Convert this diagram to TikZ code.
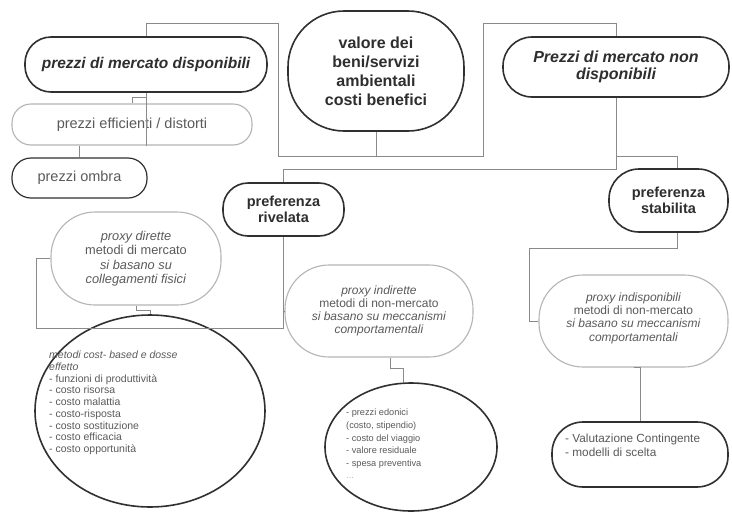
\documentclass[tikz,border=0pt]{standalone}
\usepackage{fontspec}
\setmainfont{Liberation Sans}
\usetikzlibrary{shapes.geometric}
\definecolor{boxdark}{HTML}{303030}
\definecolor{boxlight}{HTML}{B4B4B4}
\definecolor{lineg}{HTML}{8A8A8A}
\definecolor{txtdark}{HTML}{2E2E2E}
\definecolor{txtmid}{HTML}{5A5A5A}
\begin{document}
\begin{tikzpicture}[x=1pt,y=-1pt,
  thickbox/.style={draw=boxdark, line width=1.6pt, fill=white, inner sep=0pt, text=txtdark},
  medbox/.style={draw=boxdark, line width=1.2pt, fill=white, inner sep=0pt, text=txtmid},
  thinbox/.style={draw=boxlight, line width=1.1pt, inner sep=0pt, text=txtmid},
  ring/.style={ellipse, draw=boxdark, line width=1.6pt, inner sep=0pt},
  conn/.style={draw=lineg, line width=0.8pt},
  listtxt/.style={anchor=north west, align=left, inner sep=0pt, text=txtmid}]
\useasboundingbox (0,0) rectangle (732,512);
\fill[white] (0,0) rectangle (732,512);

% top level
\node[thickbox, minimum width=242pt, minimum height=55pt, rounded corners=26pt,
  font=\fontsize{15.5}{18}\selectfont\bfseries\itshape] (disp) at (146,64.5)
  {prezzi di mercato disponibili};
\node[thickbox, minimum width=176pt, minimum height=120pt, rounded corners=56pt,
  align=center, font=\fontsize{16}{19}\selectfont\bfseries] (valore) at (376,71)
  {valore dei\\beni/servizi\\ambientali\\costi benefici};
\node[thickbox, minimum width=226pt, minimum height=60pt, rounded corners=29pt,
  align=center, font=\fontsize{16}{17.5}\selectfont\bfseries\itshape] (nondisp) at (616,67)
  {Prezzi di mercato non\\disponibili};

% left branch
\node[thinbox, minimum width=240pt, minimum height=41pt, rounded corners=19pt,
  font=\fontsize{14.5}{17}\selectfont] (eff) at (132,124.5)
  {prezzi efficienti / distorti};
\node[medbox, minimum width=135pt, minimum height=40pt, rounded corners=19pt,
  font=\fontsize{14.5}{17}\selectfont] (ombra) at (79.5,178)
  {prezzi ombra};

% preferences
\node[thickbox, minimum width=121pt, minimum height=53pt, rounded corners=25pt,
  align=center, font=\fontsize{14.5}{16}\selectfont\bfseries] (riv) at (283.5,209.5)
  {preferenza\\rivelata};
\node[thickbox, minimum width=119pt, minimum height=63pt, rounded corners=30pt,
  align=center, font=\fontsize{14.5}{16}\selectfont\bfseries] (stab) at (668.5,200.5)
  {preferenza\\stabilita};

% proxies
\node[thinbox, minimum width=170pt, minimum height=93pt, rounded corners=44pt,
  align=center, font=\fontsize{12.8}{14.5}\selectfont] (dir) at (136,258.5)
  {\textit{proxy dirette}\\metodi di mercato\\\textit{si basano su}\\\textit{collegamenti fisici}};
\node[thinbox, minimum width=188pt, minimum height=92pt, rounded corners=44pt,
  align=center, font=\fontsize{12}{13.2}\selectfont] (indir) at (379,311)
  {\textit{proxy indirette}\\metodi di non-mercato\\\textit{si basano su meccanismi}\\\textit{comportamentali}};
\node[thinbox, minimum width=189pt, minimum height=92pt, rounded corners=44pt,
  align=center, font=\fontsize{12}{13.2}\selectfont, text depth=8pt] (indisp) at (633.5,321)
  {\textit{proxy indisponibili}\\metodi di non-mercato\\\textit{si basano su meccanismi}\\\textit{comportamentali}};

% circles
\node[ring, minimum width=230pt, minimum height=192pt] (costcirc) at (150,411) {};
\node[listtxt, font=\fontsize{10.5}{11.7}\selectfont] (costtxt) at (49,351)
  {\textit{metodi cost- based e dosse}\\\textit{effetto}\\- funzioni di produttività\\- costo risorsa\\- costo malattia\\- costo-risposta\\- costo sostituzione\\- costo efficacia\\- costo opportunità};
\node[ring, minimum width=172pt, minimum height=128pt] (edon) at (411,447) {};
\node[listtxt, font=\fontsize{9.2}{12.6}\selectfont] (edontxt) at (346,409)
  {- prezzi edonici\\(costo, stipendio)\\- costo del viaggio\\- valore residuale\\- spesa preventiva\\\textcolor{black!30}{...}};

% contingent valuation
\node[thickbox, minimum width=176pt, minimum height=65pt, rounded corners=31pt] (cont) at (640,454.5) {};
\node[listtxt, font=\fontsize{11.8}{14}\selectfont] (conttxt) at (565,434)
  {- Valutazione Contingente\\- modelli di scelta};

% connectors
\coordinate (jl) at (278,156);
\coordinate (jr) at (483,156);
\draw[conn] (disp.north) |- (278,23) -- (jl) -- (jr) -- (483,23) -| (nondisp.north);
\draw[conn] (valore.south) -- (valore.south |- jl);
\draw[conn] (disp.south) -- ++(0,5) -| (eff.north);
\draw[conn] (disp.south) -- (disp.south |- eff.south);
\draw[conn] (eff.south -| ombra.north) -- (ombra.north);

\coordinate (jp) at (616,169);
\draw[conn] (nondisp.south) -- (jp) -| (riv.north);
\draw[conn] (616,156) -| ([xshift=8.5pt]stab.north);

\coordinate (jd) at (36,328);
\draw[conn] (riv.south) -- (riv.south |- jd) -- (jd) |- (dir.west);
\draw[conn] (riv.south |- indir.west) -- (indir.west);
\draw[conn] (dir.south) -- ++(0,5) -| (costcirc.north);
\draw[conn] ([xshift=11pt]indir.south) -- ++(0,11) -| ([xshift=-8pt]edon.north);

\coordinate (js) at (529,248);
\draw[conn] ([xshift=9pt]stab.south) |- (js) |- (indisp.west);
\draw[conn] (indisp.south) -- (indisp.south -| cont.north) -- (cont.north);
\end{tikzpicture}
\end{document}
